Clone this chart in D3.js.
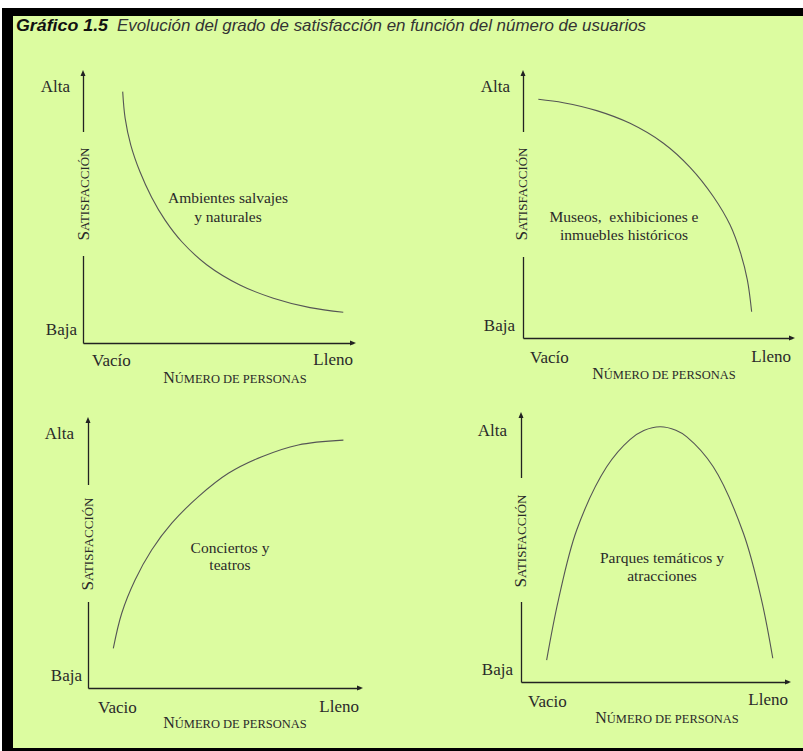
<!DOCTYPE html>
<html>
<head>
<meta charset="utf-8">
<script src="https://cdn.jsdelivr.net/npm/d3@7"></script>
<style>
  body { margin: 0; background: #fff; }
  svg { display: block; }
</style>
</head>
<body>
<svg width="803" height="751"></svg>
<script>
// Data: satisfaction curves, x = crowding (0 = Vacío, 1 = Lleno), y = satisfaction (0 = Baja, 1 = Alta)
const curveWild = [[0.147, 0.931], [0.156, 0.833], [0.177, 0.733], [0.211, 0.634], [0.254, 0.540],
                   [0.304, 0.455], [0.366, 0.375], [0.458, 0.290], [0.581, 0.215], [0.705, 0.166],
                   [0.841, 0.131], [0.964, 0.114]];
const curveMuseum = [[0.057, 0.901], [0.150, 0.888], [0.274, 0.858], [0.398, 0.810], [0.522, 0.735],
                     [0.621, 0.644], [0.708, 0.533], [0.770, 0.426], [0.809, 0.320], [0.834, 0.219],
                     [0.850, 0.099]];
const curveConcert = [[0.093, 0.148], [0.124, 0.279], [0.173, 0.403], [0.234, 0.515], [0.308, 0.615],
                      [0.406, 0.714], [0.516, 0.801], [0.639, 0.863], [0.773, 0.907], [0.939, 0.925]];
const curvePark = [[0.096, 0.082], [0.140, 0.307], [0.209, 0.570], [0.321, 0.806], [0.408, 0.908],
                   [0.460, 0.942], [0.521, 0.956], [0.580, 0.943], [0.621, 0.918], [0.720, 0.806],
                   [0.833, 0.557], [0.901, 0.307], [0.943, 0.089]];

const panelLabels = [
  ["Ambientes salvajes", "y naturales"],
  ["Museos,  exhibiciones e", "inmuebles históricos"],
  ["Conciertos y", "teatros"],
  ["Parques temáticos y", "atracciones"]
];
const emptyLabels = ["Vacío", "Vacío", "Vacio", "Vacio"];
const fullLabel = "Lleno";
const highLabel = "Alta", lowLabel = "Baja";
const titleBold = "Gráfico 1.5";
const titleRest = "Evolución del grado de satisfacción en función del número de usuarios";

// layout for each panel (pixels)
const layouts = [
  {x0: 83, x1: 353, y0: 343, y1: 73, alta: [70, 92], baja: [77, 335], vac: [92, 366], lle: [353, 365],
   xl: [235, 383], sat: [84, 194], gap: [132, 256], note: [228, 203, 222]},
  {x0: 523, x1: 792, y0: 338, y1: 73, alta: [510, 92], baja: [515, 331], vac: [530, 363], lle: [791, 362],
   xl: [664, 379], sat: [522, 194], gap: [132, 257], note: [624, 222, 240]},
  {x0: 88, x1: 360, y0: 688, y1: 420, alta: [74, 439], baja: [82, 681], vac: [98, 713], lle: [359, 712],
   xl: [235, 728], sat: [88, 544], gap: [485, 602], note: [230, 553, 570]},
  {x0: 521, x1: 788, y0: 682, y1: 415, alta: [507, 436], baja: [513, 675], vac: [528, 707], lle: [788, 705],
   xl: [667, 723], sat: [521, 541], gap: [478, 602], note: [662, 563, 581]}
];
const curves = [curveWild, curveMuseum, curveConcert, curvePark];

const bg = "#dcfca0";
const serif = "'Liberation Serif', 'Times New Roman', serif";
const svg = d3.select("svg");

// frame
svg.append("rect").attr("x", 2).attr("y", 8).attr("width", 801).attr("height", 743).attr("fill", "#000");
svg.append("rect").attr("x", 13).attr("y", 16).attr("width", 790).attr("height", 732).attr("fill", bg);

// title
const title = svg.append("text")
  .attr("x", 16).attr("y", 31)
  .attr("font-family", "'Liberation Sans', Arial, sans-serif")
  .attr("font-style", "italic")
  .attr("font-size", "17px")
  .attr("fill", "#333");
title.append("tspan").attr("font-weight", "bold").attr("fill", "#111")
  .attr("textLength", 92).attr("lengthAdjust", "spacingAndGlyphs").text(titleBold);
title.append("tspan").attr("x", 117)
  .attr("textLength", 529).attr("lengthAdjust", "spacingAndGlyphs").text(titleRest);

curves.forEach((pts, i) => {
  const L = layouts[i];
  const g = svg.append("g");

  const x = d3.scaleLinear().domain([0, 1]).range([L.x0, L.x1]);
  const y = d3.scaleLinear().domain([0, 1]).range([L.y0, L.y1]);

  // axes (no ticks, only the domain line)
  g.append("g").attr("transform", `translate(0,${L.y0})`)
    .call(d3.axisBottom(x).tickValues([]).tickSizeOuter(0))
    .select(".domain").attr("stroke", "#222").attr("stroke-width", 1.3);
  g.append("g").attr("transform", `translate(${L.x0},0)`)
    .call(d3.axisLeft(y).tickValues([]).tickSizeOuter(0))
    .select(".domain").attr("stroke", "#222").attr("stroke-width", 1.3);

  // arrow heads
  const xe = x(1), ye = y(1);
  g.append("path").attr("d", `M${xe + 3},${L.y0} L${xe - 3},${L.y0 - 2.5} L${xe - 3},${L.y0 + 2.5} Z`).attr("fill", "#222");
  g.append("path").attr("d", `M${L.x0},${ye - 3} L${L.x0 - 2.5},${ye + 3} L${L.x0 + 2.5},${ye + 3} Z`).attr("fill", "#222");

  // gap in the vertical axis for the title
  g.append("rect").attr("x", L.x0 - 3).attr("y", L.gap[0]).attr("width", 6)
    .attr("height", L.gap[1] - L.gap[0]).attr("fill", bg);

  // curve
  const line = d3.line().x(d => x(d[0])).y(d => y(d[1])).curve(d3.curveCatmullRom.alpha(0.5));
  g.append("path").datum(pts).attr("d", line)
    .attr("fill", "none").attr("stroke", "#555").attr("stroke-width", 1.1);

  const txt = (px, py, s, anchor) => g.append("text")
    .attr("x", px).attr("y", py).attr("text-anchor", anchor)
    .attr("font-family", serif).attr("font-size", "17px").attr("fill", "#2a2a2a").text(s);

  txt(L.alta[0], L.alta[1], highLabel, "end");
  txt(L.baja[0], L.baja[1], lowLabel, "end");
  txt(L.vac[0], L.vac[1], emptyLabels[i], "start");
  txt(L.lle[0], L.lle[1], fullLabel, "end");

  // x title in small caps
  const xt = g.append("text").attr("x", L.xl[0]).attr("y", L.xl[1]).attr("text-anchor", "middle")
    .attr("font-family", serif).attr("fill", "#2a2a2a");
  xt.append("tspan").attr("font-size", "16px").text("N");
  xt.append("tspan").attr("font-size", "12.5px").text("ÚMERO DE PERSONAS");

  // y title in small caps, rotated
  const yt = g.append("text")
    .attr("transform", `translate(${L.sat[0] + 5},${L.sat[1]}) rotate(-90)`)
    .attr("text-anchor", "middle")
    .attr("font-family", serif).attr("fill", "#2a2a2a");
  yt.append("tspan").attr("font-size", "17px").text("S");
  yt.append("tspan").attr("font-size", "13px").text("ATISFACCIÓN");

  // panel note
  panelLabels[i].forEach((s, k) => {
    g.append("text").attr("x", L.note[0]).attr("y", L.note[1 + k]).attr("text-anchor", "middle")
      .attr("font-family", serif).attr("font-size", "15.5px").attr("fill", "#2a2a2a")
      .attr("xml:space", "preserve").style("white-space", "pre").text(s);
  });
});
</script>
</body>
</html>
